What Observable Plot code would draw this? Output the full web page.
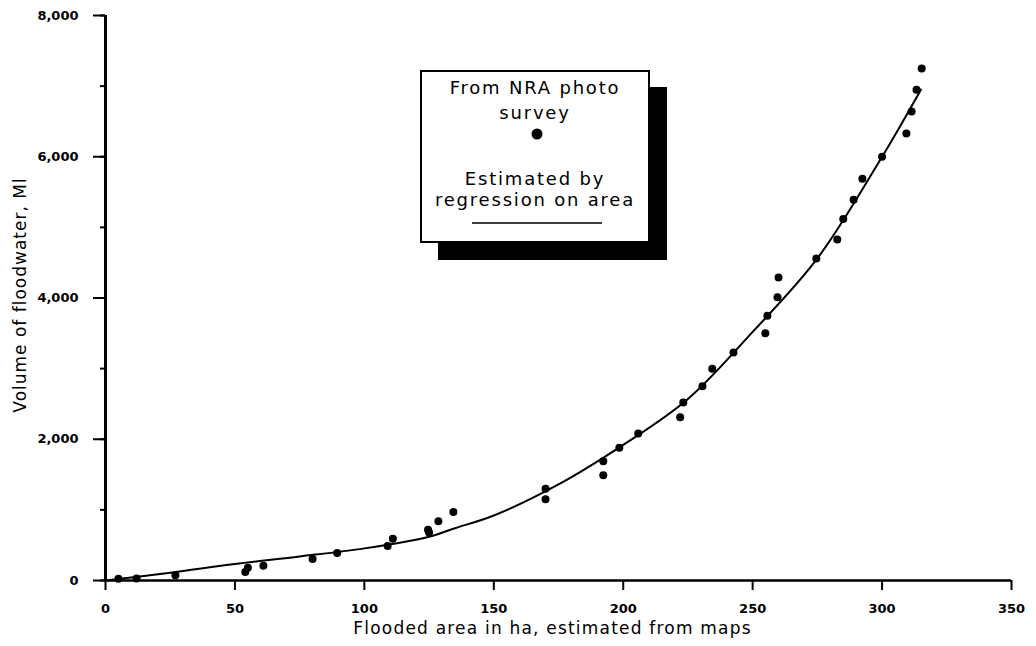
<!DOCTYPE html>
<html>
<head>
<meta charset="utf-8">
<script src="https://cdn.jsdelivr.net/npm/d3@7"></script>
<script src="https://cdn.jsdelivr.net/npm/@observablehq/plot@0.6"></script>
<style>
  body { margin: 0; background: #fff; }
  #wrap { position: relative; width: 1036px; height: 646px; font-family: "DejaVu Sans", sans-serif; color: #000; }
  #wrap svg { position: absolute; left: 0; top: 0; }
  .shadow { position: absolute; left: 438px; top: 87px; width: 229px; height: 173px; background: #000; }
  .legend { position: absolute; left: 420px; top: 70px; width: 226px; height: 169px; border: 2px solid #000; background: #fff; }
  .lt { position: absolute; left: 0; width: 100%; text-align: center; font-size: 18px; letter-spacing: 1.8px; line-height: 20px; }
</style>
</head>
<body>
<div id="wrap"></div>
<script>
// Observed points: flooded area (ha) and volume of floodwater (Ml)
const areaHa = [5, 12, 27, 54, 55, 61, 80, 89.5, 109, 111, 124.6, 125, 128.6, 134.4, 170, 170,
  192.3, 192.3, 198.5, 205.8, 222, 223.2, 230.6, 234.4, 242.6, 254.9, 255.7, 259.6, 260,
  274.6, 282.7, 285, 289, 292.4, 300, 309.4, 311.4, 313.3, 315.3];
const volumeMl = [25, 30, 75, 120, 180, 210, 305, 390, 490, 590, 720, 680, 840, 970, 1300, 1150,
  1490, 1690, 1880, 2080, 2310, 2520, 2750, 3000, 3230, 3500, 3750, 4010, 4290,
  4560, 4830, 5120, 5390, 5690, 6000, 6330, 6640, 6950, 7250];

// Regression curve
const fitArea = [0, 25, 50, 75, 100, 125, 135, 150, 175, 200, 225, 250, 275, 300, 315];
const fitVolume = [0, 110, 235, 340, 455, 620, 740, 920, 1360, 1920, 2570, 3520, 4560, 6000, 6950];

const xTicks = [0, 50, 100, 150, 200, 250, 300, 350];
const yTicks = [0, 1000, 2000, 3000, 4000, 5000, 6000, 7000, 8000];
const yLabelTicks = [0, 2000, 4000, 6000, 8000];

const xTitle = "Flooded area in ha, estimated from maps";
const yTitle = "Volume of floodwater, Ml";
const legendPointText = ["From NRA photo", "survey"];
const legendLineText = ["Estimated by", "regression on area"];

const points = areaHa.map((a, i) => ({area: a, volume: volumeMl[i]}));
const fit = fitArea.map((a, i) => ({area: a, volume: fitVolume[i]}));

const chart = Plot.plot({
  width: 1036,
  height: 646,
  marginLeft: 105,
  marginRight: 25,
  marginTop: 15,
  marginBottom: 66,
  x: {domain: [0, 350]},
  y: {domain: [0, 8000]},
  style: {fontFamily: "DejaVu Sans", background: "#fff", color: "#000", overflow: "visible"},
  marks: [
    Plot.axisX({ticks: xTicks, tickSize: 10, tickPadding: 13, tickFormat: d => String(d),
      fontSize: 13, fontWeight: "bold", strokeWidth: 2, label: null}),
    Plot.axisY({ticks: yTicks, tickSize: 5, tickFormat: () => "", strokeWidth: 2, label: null}),
    Plot.axisY({ticks: yLabelTicks, tickSize: 12, tickPadding: 15, tickFormat: d3.format(","),
      fontSize: 13, fontWeight: "bold", strokeWidth: 2, label: null}),
    Plot.ruleX([0], {stroke: "#000", strokeWidth: 3}),
    Plot.ruleY([0], {stroke: "#000", strokeWidth: 2.5}),
    Plot.line(fit, {x: "area", y: "volume", curve: "catmull-rom", stroke: "#000", strokeWidth: 2}),
    Plot.dot(points, {x: "area", y: "volume", r: 4, fill: "#000", stroke: null}),
    Plot.text([xTitle], {frameAnchor: "bottom", dy: 53, dx: -6, fontSize: 17}),
    Plot.text([yTitle], {frameAnchor: "left", textAnchor: "middle", rotate: -90, dx: -85, dy: -3, fontSize: 17})
  ]
});

const wrap = document.getElementById("wrap");
wrap.appendChild(chart);

const svg = chart.tagName.toLowerCase() === "svg" ? chart : chart.querySelector("svg");
svg.querySelectorAll("text").forEach(t => {
  if (t.textContent === xTitle) t.style.letterSpacing = "1.2px";
  if (t.textContent === yTitle) t.style.letterSpacing = "1px";
});

const shadow = document.createElement("div");
shadow.className = "shadow";
wrap.appendChild(shadow);

const legend = document.createElement("div");
legend.className = "legend";
wrap.appendChild(legend);

function addLine(text, top) {
  const d = document.createElement("div");
  d.className = "lt";
  d.style.top = top + "px";
  d.textContent = text;
  legend.appendChild(d);
}
addLine(legendPointText[0], 6);
addLine(legendPointText[1], 31);
addLine(legendLineText[0], 97);
addLine(legendLineText[1], 118);

const ns = "http://www.w3.org/2000/svg";
const ls = document.createElementNS(ns, "svg");
ls.setAttribute("width", 226);
ls.setAttribute("height", 169);
ls.style.position = "absolute";
ls.style.left = "0";
ls.style.top = "0";
const c = document.createElementNS(ns, "circle");
c.setAttribute("cx", 115); c.setAttribute("cy", 62); c.setAttribute("r", 5.5); c.setAttribute("fill", "#000");
ls.appendChild(c);
const l = document.createElementNS(ns, "line");
l.setAttribute("x1", 50); l.setAttribute("x2", 180); l.setAttribute("y1", 151); l.setAttribute("y2", 151);
l.setAttribute("stroke", "#000"); l.setAttribute("stroke-width", 1.5);
ls.appendChild(l);
legend.appendChild(ls);
</script>
</body>
</html>
